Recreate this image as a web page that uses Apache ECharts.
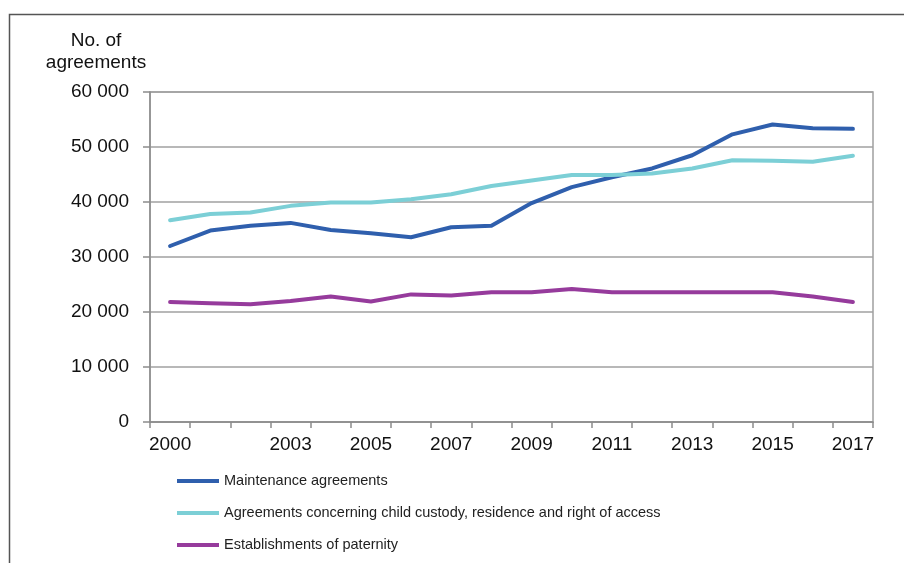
<!DOCTYPE html>
<html>
<head>
<meta charset="utf-8">
<script src="https://cdn.jsdelivr.net/npm/echarts@6/dist/echarts.min.js"></script>
<style>
html,body{margin:0;padding:0;background:#fff;}
#chart{width:904px;height:563px;}
</style>
</head>
<body>
<div id="chart"></div>
<script>
const years = ['2000','2001','2002','2003','2004','2005','2006','2007','2008','2009','2010','2011','2012','2013','2014','2015','2016','2017'];
const xTickLabels = ['2000','2003','2005','2007','2009','2011','2013','2015','2017'];
const maintenance = [32000,34800,35700,36200,34900,34300,33600,35400,35700,39800,42700,44500,46100,48500,52300,54100,53400,53300];
const custody = [36700,37800,38100,39300,39900,39900,40500,41400,42900,43900,44900,44900,45200,46100,47600,47500,47300,48400];
const paternity = [21800,21600,21400,22000,22800,21900,23200,23000,23600,23600,24200,23600,23600,23600,23600,23600,22800,21800];
const seriesNames = ['Maintenance agreements','Agreements concerning child custody, residence and right of access','Establishments of paternity'];
const yTitle = 'No. of\nagreements';

const font = "'Liberation Sans', Arial, sans-serif";
const chart = echarts.init(document.getElementById('chart'), null, {renderer:'canvas'});
const mk = (name, data, color) => ({
  name, type:'line', data, symbol:'none', smooth:false,
  lineStyle:{color, width:4, cap:'round', join:'round'},
  itemStyle:{color}
});
chart.setOption({
  animation:false,
  backgroundColor:'#fff',
  grid:{left:150, right:31, top:92, bottom:141, show:true, borderColor:'#a0a0a0', borderWidth:1.5, backgroundColor:'transparent'},
  xAxis:{
    type:'category', data:years, boundaryGap:true,
    axisLine:{lineStyle:{color:'#8c8c8c', width:1.5}},
    axisTick:{show:true, interval:0, length:6, lineStyle:{color:'#8c8c8c', width:1.5}},
    axisLabel:{
      interval:(idx, val) => xTickLabels.includes(val),
      color:'#111', fontFamily:font, fontSize:19, margin:13
    },
    splitLine:{show:false}
  },
  yAxis:{
    type:'value', min:0, max:60000, interval:10000,
    axisLine:{show:true, lineStyle:{color:'#8c8c8c', width:1.5}},
    axisTick:{show:true, length:7, lineStyle:{color:'#8c8c8c', width:1.5}},
    axisLabel:{
      color:'#111', fontFamily:font, fontSize:19, margin:21,
      formatter:v => String(v).replace(/\B(?=(\d{3})+(?!\d))/g,' ')
    },
    splitLine:{show:true, lineStyle:{color:'#a0a0a0', width:1.5}}
  },
  legend:{
    orient:'vertical', left:177, top:472, height:90, padding:0, icon:'rect', itemWidth:42, itemHeight:4, itemGap:14,
    textStyle:{fontFamily:font, fontSize:14.5, color:'#222', lineHeight:18},
    data:seriesNames
  },
  graphic:[
    {type:'rect', shape:{x:9.5, y:14.5, width:1000, height:1000}, style:{fill:'none', stroke:'#555', lineWidth:1.5}, silent:true, z:-1},
    {type:'text', x:96, y:30, style:{text:yTitle, textAlign:'center', fontFamily:font, fontSize:19, fill:'#111', lineHeight:22}}
  ],
  series:[
    mk(seriesNames[0], maintenance, '#2f5fad'),
    mk(seriesNames[1], custody, '#7ccfd6'),
    mk(seriesNames[2], paternity, '#963b9c')
  ]
});
</script>
</body>
</html>
